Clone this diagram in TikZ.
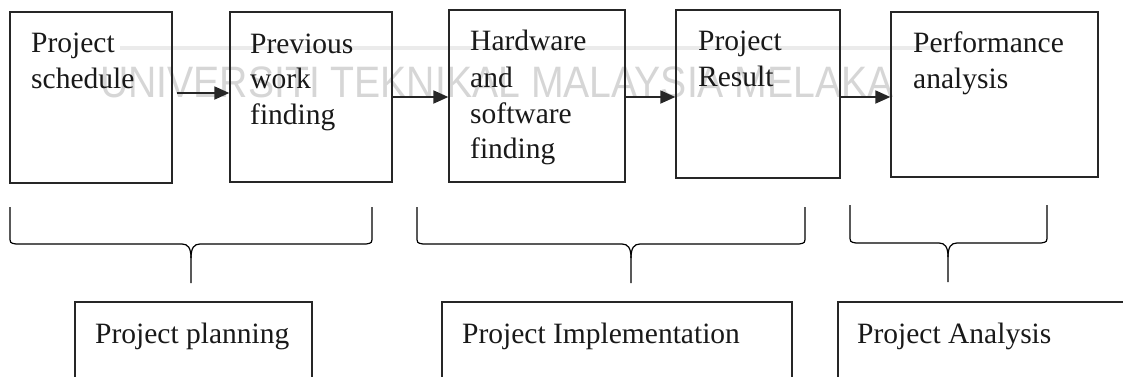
\documentclass[tikz,border=0pt]{standalone}
\usepackage{fontspec}
\setmainfont{Liberation Serif}
\newfontfamily\wmfont{Liberation Sans}
\usetikzlibrary{arrows.meta}
\begin{document}
\begin{tikzpicture}[x=1pt,y=-1pt,
  boxnode/.style={draw=black!85,line width=1.3pt,inner sep=0pt},
  txt/.style={anchor=base west,inner sep=0pt,font=\fontsize{29.5}{36}\selectfont,text=black!90},
  arr/.style={draw=black!85,line width=1.8pt,-{Triangle[length=15pt,width=13pt]}},
  brace/.style={draw=black,line width=1.2pt,line join=round},
  wm/.style={anchor=base west,inner sep=0pt,text=black!16,font=\wmfont\fontsize{44}{44}\selectfont}]
\useasboundingbox (0,0) rectangle (1123,376);
\clip (0,0) rectangle (1123,376);
\fill[white] (0,0) rectangle (1123,376);
% watermark
\fill[black!8] (120,46) rectangle (940,50);
\node[wm] (wmark) at (100,97) {\scalebox{0.89}[1]{UNIVERSITI TEKNIKAL MALAYSIA MELAKA}};
% top boxes
\node[boxnode,minimum width=162pt,minimum height=171pt] (b1) at (91,97.5) {};
\node[boxnode,minimum width=162pt,minimum height=170pt] (b2) at (311,97) {};
\node[boxnode,minimum width=176pt,minimum height=172pt] (b3) at (537,96) {};
\node[boxnode,minimum width=164pt,minimum height=168pt] (b4) at (758,94) {};
\node[boxnode,minimum width=207pt,minimum height=165pt] (b5) at (994.5,94.5) {};
% texts
\node[txt] (t1a) at (31,52) {Project};
\node[txt] (t1b) at (31,88) {schedule};
\node[txt] (t2a) at (250,53) {Previous};
\node[txt] (t2b) at (250,88) {work};
\node[txt] (t2c) at (250,124) {finding};
\node[txt] (t3a) at (470,50) {Hardware};
\node[txt] (t3b) at (470,87) {and};
\node[txt] (t3c) at (470,123) {software};
\node[txt] (t3d) at (470,158) {finding};
\node[txt] (t4a) at (698,50) {Project};
\node[txt] (t4b) at (698,86) {Result};
\node[txt] (t5a) at (913,52) {Performance};
\node[txt] (t5b) at (913,88) {analysis};
% arrows
\draw[arr] ([xshift=4pt,yshift=4.5pt]b1.east) -- ([yshift=4pt]b2.west);
\draw[arr] (b2.east) -- ([yshift=-1pt]b3.west);
\draw[arr] ([yshift=-1pt]b3.east) -- ([yshift=-3pt]b4.west);
\draw[arr] ([yshift=-3pt]b4.east) -- ([yshift=-2.5pt]b5.west);
% braces
\draw[brace] (10,207) -- (10,236) .. controls (10,243) .. (16,244) -- (182,244)
  .. controls (188,244) and (191,248) .. (191,258) -- (191,283);
\draw[brace] (372,207) -- (372,236) .. controls (372,243) .. (366,244) -- (200,244)
  .. controls (194,244) and (191,248) .. (191,258);
\draw[brace] (417,207) -- (417,236) .. controls (417,243) .. (423,244) -- (622,244)
  .. controls (628,244) and (631,248) .. (631,258) -- (631,283);
\draw[brace] (805,207) -- (805,236) .. controls (805,243) .. (799,244) -- (640,244)
  .. controls (634,244) and (631,248) .. (631,258);
\draw[brace] (850,205) -- (850,235) .. controls (850,242) .. (856,243) -- (939,243)
  .. controls (945,243) and (948,247) .. (948,257) -- (948,282);
\draw[brace] (1047,205) -- (1047,235) .. controls (1047,242) .. (1041,243) -- (957,243)
  .. controls (951,243) and (948,247) .. (948,257);
% bottom boxes
\node[boxnode,minimum width=237pt,minimum height=120pt] (p1) at (193.5,362) {};
\node[boxnode,minimum width=350pt,minimum height=120pt] (p2) at (617,362) {};
\node[boxnode,minimum width=300pt,minimum height=120pt] (p3) at (988,362) {};
\node[txt] (pt1) at (95,343) {Project planning};
\node[txt] (pt2) at (462,343) {Project Implementation};
\node[txt] (pt3) at (857,343) {Project Analysis};
\end{tikzpicture}
\end{document}
